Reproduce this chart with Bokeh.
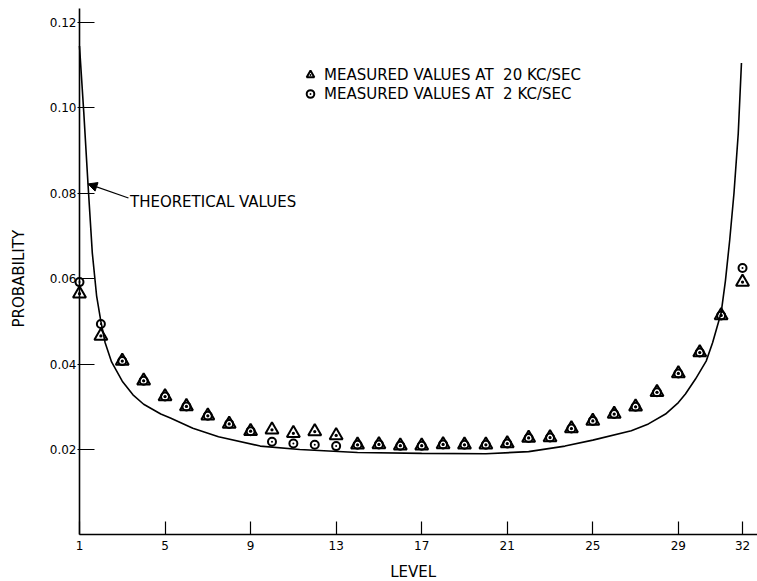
import math
from bokeh.plotting import figure
from bokeh.models import (Range1d, FixedTicker, Legend, LegendItem, Arrow,
                          NormalHead, Label, NumeralTickFormatter)
from bokeh.embed import file_html
from bokeh.resources import INLINE

# ---------------- data ----------------
levels = list(range(1, 33))

# measured values at 20 kc/sec (triangles)
p_20kc = [0.0565, 0.0466, 0.0407, 0.0361, 0.0324, 0.0301, 0.0279, 0.0260,
          0.0243, 0.0246, 0.0238, 0.0242, 0.0233, 0.0211, 0.0212, 0.0209,
          0.0209, 0.0212, 0.0211, 0.0211, 0.0214, 0.0227, 0.0228, 0.0249,
          0.0267, 0.0283, 0.0300, 0.0334, 0.0378, 0.0427, 0.0514, 0.0592]

# measured values at 2 kc/sec (circles)
p_2kc = [0.0592, 0.0494, 0.0407, 0.0361, 0.0324, 0.0301, 0.0279, 0.0260,
         0.0243, 0.0218, 0.0214, 0.0211, 0.0208, 0.0211, 0.0212, 0.0209,
         0.0209, 0.0212, 0.0211, 0.0211, 0.0214, 0.0227, 0.0228, 0.0249,
         0.0267, 0.0283, 0.0300, 0.0334, 0.0378, 0.0427, 0.0514, 0.0625]

# theoretical curve
theory_x = [1.0, 1.2, 1.4, 1.6, 1.8, 2.0, 2.2, 2.5, 3.0, 3.5, 4.0, 4.8,
            5.25, 6.3, 7.5, 9.45, 11.3, 14.0, 17.0, 20.0, 22.0, 23.7, 25.0,
            26.8, 27.6, 28.4, 29.0, 29.33, 29.8, 30.3, 30.6, 30.8, 31.0,
            31.2, 31.4, 31.6, 31.8, 31.95]
theory_y = [0.1145, 0.0990, 0.0820, 0.0660, 0.0560, 0.0500, 0.0450, 0.0405,
            0.0360, 0.0328, 0.0306, 0.0283, 0.0274, 0.0250, 0.0230, 0.0208,
            0.0200, 0.0193, 0.0191, 0.0190, 0.0195, 0.0208, 0.0222, 0.0244,
            0.0260, 0.0283, 0.0310, 0.0330, 0.0365, 0.0407, 0.0450, 0.0485,
            0.0520, 0.0595, 0.0690, 0.0800, 0.0940, 0.1105]

x_ticks = [1, 5, 9, 13, 17, 21, 25, 29, 32]
y_ticks = [0.02, 0.04, 0.06, 0.08, 0.10, 0.12]

legend_labels = ["MEASURED VALUES AT  20 KC/SEC", "MEASURED VALUES AT  2 KC/SEC"]
annotation_text = "THEORETICAL VALUES"
x_title = "LEVEL"
y_title = "PROBABILITY"

FONT = "DejaVu Sans"

# ---------------- figure ----------------
p = figure(width=757, height=581, output_backend="svg", toolbar_location=None,
           x_range=Range1d(-2.693, 32.70), y_range=Range1d(-0.01091, 0.12515),
           min_border_left=0, min_border_right=0, min_border_top=0,
           min_border_bottom=0)
p.outline_line_color = None
p.background_fill_color = "white"
p.border_fill_color = "white"
p.xgrid.visible = False
p.ygrid.visible = False

# axes drawn at level 1 / probability 0
p.yaxis.fixed_location = 1
p.yaxis.bounds = (0, 0.1233)
p.xaxis.fixed_location = 0
p.xaxis.bounds = (1, 32.70)
p.xaxis.ticker = FixedTicker(ticks=x_ticks)
p.yaxis.ticker = FixedTicker(ticks=y_ticks)
p.yaxis.formatter = NumeralTickFormatter(format="0.00")
for ax in (p.xaxis, p.yaxis):
    ax.axis_line_color = "black"
    ax.axis_line_width = 1.6
    ax.major_tick_line_color = "black"
    ax.major_tick_line_width = 1.2
    ax.minor_tick_line_color = None
    ax.major_label_text_font = FONT
    ax.major_label_text_font_size = "12px"
    ax.major_label_text_color = "black"

p.xaxis.major_tick_in = 13
p.xaxis.major_tick_out = 0
p.xaxis.major_label_standoff = 6

p.yaxis.major_tick_in = 15
p.yaxis.major_tick_out = 2
p.yaxis.major_label_standoff = 1

# axis titles
p.add_layout(Label(x=16.6, y=-0.0088, text=x_title, text_font=FONT,
                   text_font_size="15px", text_align="center",
                   text_baseline="middle", text_color="black"))
p.add_layout(Label(x=-1.85, y=0.06, text=y_title, text_font=FONT,
                   text_font_size="15px", text_align="center",
                   text_baseline="middle", text_color="black",
                   angle=math.pi / 2))

# theoretical curve
p.line(theory_x, theory_y, line_color="black", line_width=1.6)

# measured values
r20 = p.scatter(levels, p_20kc, marker="triangle_dot", size=13,
                line_color="black", line_width=2.0, fill_alpha=0)
r2 = p.scatter(levels, p_2kc, marker="circle_dot", size=8,
               line_color="black", line_width=2.0, fill_alpha=0)

legend = Legend(items=[LegendItem(label=legend_labels[0], renderers=[r20]),
                       LegendItem(label=legend_labels[1], renderers=[r2])],
                location=(300, 478), orientation="vertical",
                glyph_width=20, glyph_height=19, label_height=19,
                label_standoff=4, spacing=0, padding=0, margin=0,
                border_line_color=None, background_fill_alpha=0,
                label_text_font=FONT, label_text_font_size="15px",
                label_text_color="black")
p.add_layout(legend, "center")

# annotation for theoretical values
p.add_layout(Arrow(x_start=3.29, y_start=0.0789, x_end=1.40, y_end=0.0822,
                   line_color="black", line_width=1.2,
                   end=NormalHead(size=9, fill_color="black", line_color="black")))
p.add_layout(Label(x=3.36, y=0.0779, text=annotation_text, text_font=FONT,
                   text_font_size="15px", text_baseline="middle",
                   text_color="black"))

open("out.html", "w").write(file_html(p, INLINE))
